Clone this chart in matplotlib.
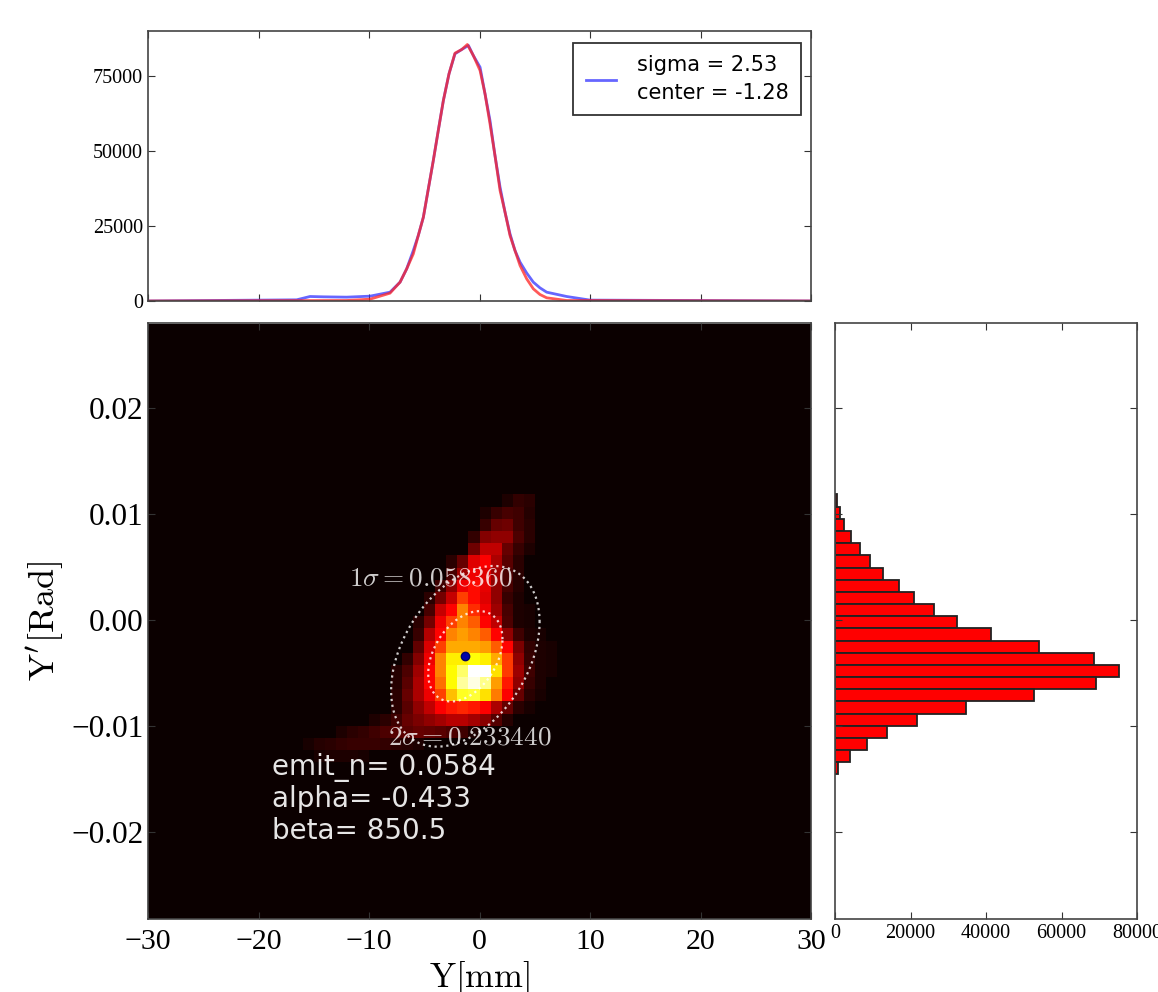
import numpy as np
import matplotlib
matplotlib.use("Agg")
import matplotlib.pyplot as plt

plt.rcParams['font.family'] = 'serif'
plt.rcParams['font.serif'] = ['Liberation Serif', 'DejaVu Serif']
plt.rcParams['mathtext.fontset'] = 'cm'

# projected profile, top panel
prof_x = [-30, -16.55, -15.34, -14.13, -12.02, -9.91, -8.1, -7.19, -6.59, -5.99, -5.54, -5.08, -4.63,
          -4.18, -3.73, -3.27, -2.76, -2.22, -1.61, -1.0, -0.56, 0.05, 0.5, 0.95, 1.4, 1.86, 2.31,
          2.76, 3.21, 3.67, 4.27, 4.87, 5.47, 6.08, 7.89, 10.0, 30]
prof_y = [0, 390, 1500, 1390, 1280, 1610, 2940, 6280, 10720, 16830, 21830, 27940, 37390,
          46830, 56830, 66830, 75720, 82390, 83830, 85170, 81830, 77940, 69050, 60170, 48500, 37940, 29610,
          22390, 16830, 12940, 9330, 6280, 4390, 2940, 1500, 300, 0]
fit_x = [-30, -12.02, -9.91, -8.1, -7.19, -6.59, -5.99, -5.54, -5.08, -4.63, -4.18, -3.73, -3.27,
         -2.76, -2.22, -1.61, -1.1, -0.56, 0.05, 0.5, 0.95, 1.4, 1.86, 2.31, 2.76, 3.21, 3.67,
         4.27, 4.87, 5.47, 6.08, 7.89, 30]
fit_y = [0, 170, 610, 2610, 6280, 10720, 15720, 21830, 27940, 37390, 46830, 56830, 66830,
         75720, 82610, 83830, 85500, 81830, 76830, 69050, 59060, 48500, 36830, 29610, 21830, 16830, 11830,
         7390, 4060, 2170, 1060, 170, 0]

# side histogram, from the top bin down
hist_top = 0.01183
hist_step = 0.001148
hist_counts = [530, 1240, 2300, 4170, 6650, 9300, 12700, 16840, 21000, 26150, 32450, 41300,
               54170, 68530, 75350, 69200, 52660, 34570, 21630, 13830, 8510, 3990, 800]

# phase space cells: row index below hist_top, first column in mm, levels
heat_rows = [
    (0, 2, [.03, .06, .05]),
    (1, 0, [.03, .07, .09, .08, .04]),
    (2, 0, [.07, .14, .15, .08, .05]),
    (3, -1, [.06, .18, .2, .2, .1, .05]),
    (4, -1, [.15, .27, .27, .14, .07, .03]),
    (5, -3, [.05, .14, .32, .36, .24, .12, .05]),
    (6, -3, [.09, .22, .34, .32, .22, .1, .05]),
    (7, -4, [.08, .2, .34, .38, .33, .2, .09, .04]),
    (8, -5, [.05, .16, .28, .46, .38, .32, .2, .07, .03]),
    (9, -5, [.09, .28, .37, .56, .43, .34, .22, .09, .03, .02]),
    (10, -6, [.05, .16, .34, .46, .56, .5, .37, .27, .1, .03, .02]),
    (11, -6, [.07, .25, .37, .56, .6, .56, .5, .37, .2, .08, .03, .02]),
    (12, -6, [.13, .31, .46, .62, .62, .62, .6, .5, .37, .17, .06, .03, .02]),
    (13, -7, [.06, .18, .34, .56, .72, .72, .75, .72, .62, .45, .2, .07, .03, .02]),
    (14, -8, [.04, .1, .22, .37, .56, .74, .85, 1.0, 1.0, .7, .45, .22, .08, .03, .02]),
    (15, -8, [.04, .12, .24, .37, .53, .74, .9, .97, .88, .6, .4, .2, .07, .03]),
    (16, -8, [.05, .14, .24, .34, .46, .65, .78, .8, .7, .55, .36, .14, .05, .02]),
    (17, -8, [.05, .12, .2, .27, .36, .4, .42, .4, .36, .24, .14, .05, .02]),
    (18, -10, [.03, .05, .08, .14, .17, .2, .23, .26, .26, .23, .19, .11, .04]),
    (19, -13, [.03, .05, .06, .08, .1, .11, .12, .14, .13, .12, .1, .08, .03]),
    (20, -16, [.02, .04, .05, .06, .07, .07, .07, .06, .05, .04, .03]),
    (21, -15, [.02, .03, .03, .03, .02]),
]

# beam ellipse, 1 sigma semi axes
center_x = -1.28
center_y = -0.00343
semi_x = 3.36
semi_y = 0.00426
tilt = 0.38

sigma_label = "sigma = 2.53\ncenter = -1.28"
notes = ["emit_n= 0.0584", "alpha= -0.433", "beta= 850.5"]
note_y = [-0.0139, -0.0169, -0.0199]

W, H = 1158.0, 992.0
fig = plt.figure(figsize=(W / 100, H / 100), dpi=100)


def make_axes(x0, x1, y0, y1):
    return fig.add_axes([x0 / W, 1 - y1 / H, (x1 - x0) / W, (y1 - y0) / H])


ax_top = make_axes(148, 811, 31, 301)
ax = make_axes(148, 811, 323, 919)
ax_side = make_axes(835, 1137, 323, 919)

# top profile
ax_top.plot(prof_x, prof_y, color='#3333ff', lw=2, alpha=0.75, label=sigma_label)
ax_top.plot(fit_x, fit_y, color='#ff2222', lw=2, alpha=0.75)
ax_top.set_xlim(-30, 30)
ax_top.set_ylim(0, 90000)
ax_top.set_xticks([-30, -20, -10, 0, 10, 20, 30])
ax_top.set_xticklabels([])
ax_top.set_yticks([0, 25000, 50000, 75000])
ax_top.tick_params(axis='y', labelsize=14.5)
leg = ax_top.legend(loc='upper right', fancybox=False, framealpha=1, edgecolor='#333333',
                    prop={'family': 'DejaVu Sans', 'size': 15}, borderaxespad=0,
                    bbox_to_anchor=(0.985, 0.9556), handlelength=1.45, handletextpad=1.0,
                    borderpad=0.6)
leg.get_frame().set_linewidth(1.3)
leg.get_texts()[0].set_linespacing(1.45)

# phase space map
x_edges = np.arange(-30, 31)
n_above = 14
n_rows = 49
y_edges = hist_top + hist_step * (n_above - np.arange(n_rows + 1))
cells = np.zeros((n_rows, 60))
for row, first, levels in heat_rows:
    for i, v in enumerate(levels):
        cells[row + n_above, first + 30 + i] = v
ax.pcolormesh(x_edges, y_edges, cells, cmap='hot', vmin=0, vmax=1, linewidth=0)

t = np.linspace(0, 2 * np.pi, 200)
for k in [1, 2]:
    ell_x = center_x + k * semi_x * np.cos(t)
    ell_y = center_y + k * semi_y * np.cos(t - np.arccos(tilt))
    ax.plot(ell_x, ell_y, color='white', ls=':', lw=1.6, alpha=0.8)
ax.plot([center_x], [center_y], 'o', color='#0000aa', ms=6, mec='#000066')

ax.text(-11.8, 0.00388, r"$1\sigma=0.058360$", color='white', alpha=0.8, fontsize=19.6, va='center')
ax.text(-8.3, -0.0111, r"$2\sigma=0.233440$", color='white', alpha=0.8, fontsize=19.6, va='center')
for s, yy in zip(notes, note_y):
    ax.text(-18.8, yy, s, color='white', alpha=0.9, family='DejaVu Sans', fontsize=20, va='center')

ax.set_xlim(-30, 30)
ax.set_ylim(-0.0282, 0.028)
ax.set_xticks([-30, -20, -10, 0, 10, 20, 30])
ax.set_yticks([-0.02, -0.01, 0, 0.01, 0.02])
ax.set_yticklabels(['\u22120.02', '\u22120.01', '0.00', '0.01', '0.02'])
ax.set_xticklabels(['\u221230', '\u221220', '\u221210', '0', '10', '20', '30'])
ax.tick_params(axis='x', labelsize=21.5, pad=7)
ax.tick_params(axis='y', labelsize=22.5, pad=3)
ax.set_xlabel(r"$\mathrm{Y[mm]}$", fontsize=25, labelpad=3)
ax.set_ylabel(r"$\mathrm{Y'[Rad]}$", fontsize=26, labelpad=4)

# side histogram
bar_y = hist_top - hist_step * (np.arange(len(hist_counts)) + 0.5)
ax_side.barh(bar_y, hist_counts, height=hist_step, color='red', edgecolor='#222222', lw=1.3)
ax_side.set_xlim(0, 80000)
ax_side.set_ylim(-0.0282, 0.028)
ax_side.set_xticks([0, 20000, 40000, 60000, 80000])
ax_side.set_yticks([-0.02, -0.01, 0, 0.01, 0.02])
ax_side.set_yticklabels([])
ax_side.tick_params(axis='x', labelsize=14.5)

for a in [ax_top, ax, ax_side]:
    a.tick_params(direction='in', top=True, right=True, length=5, width=0.8, color='#333333')
    for sp in a.spines.values():
        sp.set_color('#444444')
        sp.set_linewidth(1.2)

fig.savefig('out.png', dpi=100)
